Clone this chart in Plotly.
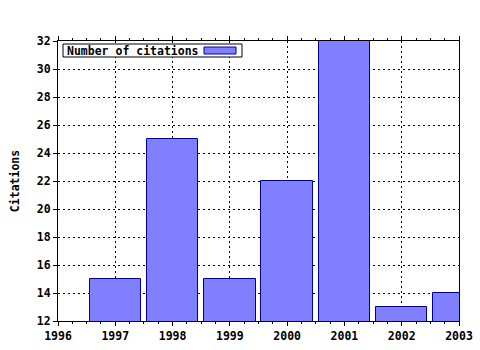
import plotly.graph_objects as go

years = [1997, 1998, 1999, 2000, 2001, 2002, 2003]
citations = [15, 25, 15, 22, 32, 13, 14]
series_name = "Number of citations"
y_title = "Citations"
x_ticks = [1996, 1997, 1998, 1999, 2000, 2001, 2002, 2003]
y_ticks = [12, 14, 16, 18, 20, 22, 24, 26, 28, 30, 32]

FONT = "DejaVu Sans Mono"
FILL = "#8080ff"
EDGE = "#000099"

L, R, T, B = 58, 21, 41, 29
W, H = 480, 350
PW, PH = W - L - R, H - T - B


def px(x):
    return (x - L) / PW


def py(y):
    return 1 - (y - T) / PH


fig = go.Figure()
fig.add_trace(go.Bar(
    x=years, y=citations, name=series_name, width=0.9,
    marker=dict(color=FILL, line=dict(color=EDGE, width=1)),
    showlegend=False,
))

# legend box drawn as layout decoration
fig.add_shape(type="rect", xref="paper", yref="paper",
              x0=px(63), x1=px(242), y0=py(57), y1=py(44),
              line=dict(color="black", width=1), fillcolor="white", layer="above")
fig.add_shape(type="rect", xref="paper", yref="paper",
              x0=px(204), x1=px(236), y0=py(54), y1=py(47),
              line=dict(color=EDGE, width=1), fillcolor=FILL, layer="above")
fig.add_annotation(xref="paper", yref="paper", x=px(64.5), y=py(50.5),
                   xanchor="left", yanchor="middle", showarrow=False,
                   text=series_name,
                   font=dict(family=FONT, size=11.5, color="black", weight="bold"))

fig.update_layout(
    width=W, height=H,
    margin=dict(l=L, r=R, t=T, b=B),
    paper_bgcolor="white", plot_bgcolor="white",
    font=dict(family=FONT, size=11.5, color="black", weight="bold"),
    showlegend=False,
    bargap=0,
)

fig.update_xaxes(
    range=[1996, 2003], tickvals=x_ticks, ticktext=[str(v) for v in x_ticks],
    showline=True, linecolor="black", linewidth=1, mirror="allticks",
    ticks="outside", ticklen=4, tickcolor="black",
    showgrid=True, gridcolor="black", griddash="2px,3px", gridwidth=1,
    zeroline=False, automargin=False,
    minor=dict(dtick=0.25, ticks="outside", ticklen=2, tickcolor="black", showgrid=False),
    tickfont=dict(family=FONT, size=11.5, color="black", weight="bold"),
)
fig.update_yaxes(
    range=[12, 32], tickvals=y_ticks,
    showline=True, linecolor="black", linewidth=1, mirror=True,
    ticks="outside", ticklen=4, tickcolor="black",
    showgrid=True, gridcolor="black", griddash="2px,3px", gridwidth=1,
    zeroline=False, automargin=False,
    title=dict(text=y_title, standoff=14,
               font=dict(family=FONT, size=11.5, color="black", weight="bold")),
    tickfont=dict(family=FONT, size=11.5, color="black", weight="bold"),
)

fig.write_html("out.html")
